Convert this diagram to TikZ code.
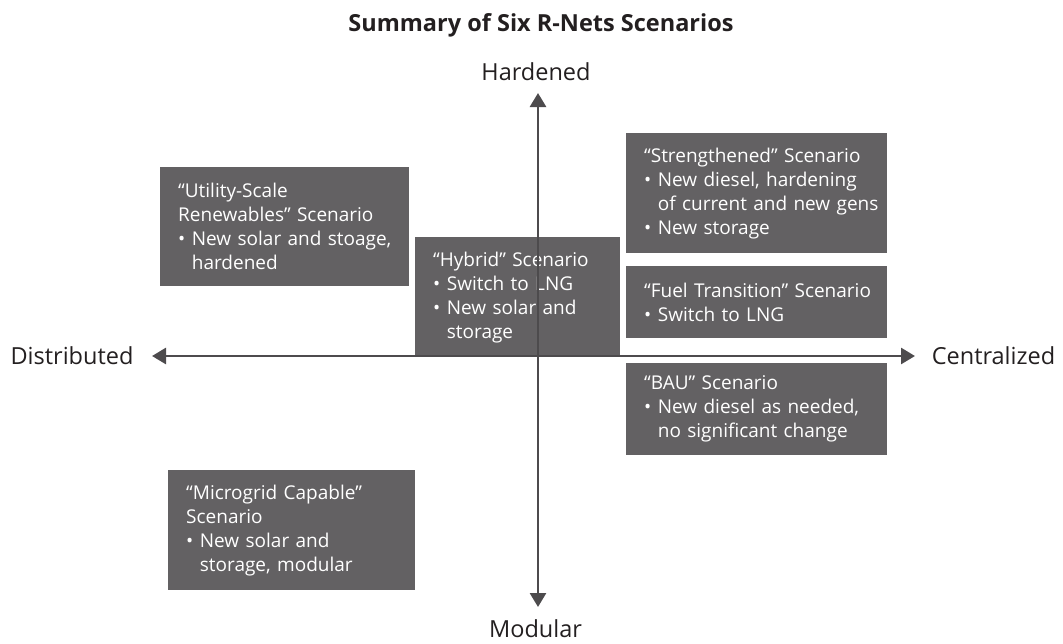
\documentclass[tikz,border=0pt]{standalone}
\usepackage{fontspec}
\setmainfont{Open Sans}
\usetikzlibrary{arrows.meta}
\definecolor{boxgray}{HTML}{636163}
\definecolor{axisgray}{HTML}{4D4B4D}
\definecolor{labeltext}{HTML}{231F20}
\newcommand\bl{\makebox[0.72em][l]{\textbullet}}
\newcommand\ind{\hspace*{0.72em}}
\begin{document}
\begin{tikzpicture}[x=1pt,y=-1pt,
  scen/.style 2 args={fill=boxgray, text=white, anchor=north west,
    font=\fontsize{19}{24}\selectfont, align=left,
    text width=#1pt, minimum height=#2pt, inner xsep=0pt, inner ysep=0pt,
    execute at begin node={\leftskip=18pt}},
  axislabel/.style={text=labeltext, font=\fontsize{23.5}{28}\selectfont, inner sep=0pt, anchor=base},
  axisline/.style={draw=axisgray, line width=2.7pt,
    {Triangle[length=14pt,width=16pt]}-{Triangle[length=14pt,width=16pt]}}
]
\useasboundingbox (0,0) rectangle (1063,643);

\node[text=labeltext, font=\fontsize{23.5}{28}\selectfont\bfseries, inner sep=0pt, anchor=base] (title) at (541,31.5) {Summary of Six R-Nets Scenarios};

\node[scen={249}{119}] (util) at (160,167) {“Utility-Scale\\Renewables” Scenario\\\bl New solar and stoage,\\\ind hardened};
\node[scen={205}{120}] (hyb) at (415,237) {“Hybrid” Scenario\\\bl Switch to LNG\\\bl New solar and\\\ind storage};
\node[scen={261}{120}] (str) at (626,133) {“Strengthened” Scenario\\\bl New diesel, hardening\\\ind of current and new gens\\\bl New storage};
\node[scen={261}{72}] (fuel) at (626,266) {“Fuel Transition” Scenario\\\bl Switch to LNG};
\node[scen={261}{92}] (bau) at (626,363) {“BAU” Scenario\\\bl New diesel as needed,\\\ind no significant change};
\node[scen={247}{120}] (micro) at (168,470) {“Microgrid Capable”\\Scenario\\\bl New solar and\\\ind storage, modular};

\node[axislabel] (hard) at (536,80) {Hardened};
\node[axislabel] (mod) at (535.5,637) {Modular};
\node[axislabel] (dist) at (72,364) {Distributed};
\node[axislabel] (cent) at (993.5,364) {Centralized};

\coordinate (top) at (538,93);
\coordinate (bot) at (538,607);
\coordinate (left) at (152,356);
\coordinate (right) at (915,356);

\draw[axisline] (left) -- (right);
\draw[axisline] (bot) -- (top);
\end{tikzpicture}
\end{document}
